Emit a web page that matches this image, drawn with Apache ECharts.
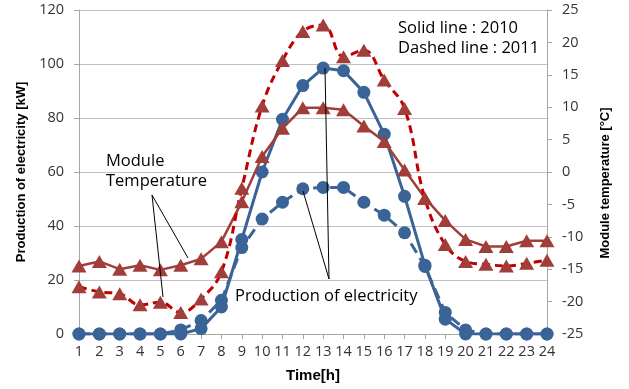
<!DOCTYPE html>
<html>
<head>
<meta charset="utf-8">
<script src="https://cdn.jsdelivr.net/npm/echarts@6/dist/echarts.min.js"></script>
<style>
html,body{margin:0;padding:0;background:#fff;}
#c{width:629px;height:389px;}
</style>
</head>
<body>
<div id="c"></div>
<script>
var hours = ['1','2','3','4','5','6','7','8','9','10','11','12','13','14','15','16','17','18','19','20','21','22','23','24'];
var power2010 = [0,0,0,0,0,0,2,10,35,60,79.5,92,98.5,97.5,89.5,74,51,25.5,5.5,0,0,0,0,0];
var power2011 = [0,0,0,0,0,1.5,5,12.5,32,42.6,48.8,53.8,54.3,54.3,48.8,44,37.5,25,8,1.5,0,0,0,0];
var temp2010 = [-14.5,-13.8,-15,-14.4,-15.1,-14.4,-13.4,-10.75,-4.6,2.4,6.75,9.9,9.9,9.6,7.1,4.7,0.3,-4.0,-7.5,-10.4,-11.5,-11.5,-10.6,-10.6];
var temp2011 = [-17.7,-18.5,-18.8,-20.5,-20.1,-21.7,-19.6,-15.4,-2.5,10.2,17.2,21.7,22.7,17.8,18.8,14.2,9.8,-4.1,-11.2,-13.8,-14.25,-14.5,-14.1,-13.6];
var leftTicks = {min:0, max:120, interval:20};
var rightTicks = {min:-25, max:25, interval:5};

var blue = '#3A6497';
var redMarker = '#A23E3A';
var redDash = '#C00000';
var font = 'Open Sans';
var noteFont = '16.5px "Open Sans"';

var chart = echarts.init(document.getElementById('c'));
chart.setOption({
  animation: false,
  grid: {left: 79, right: 82, top: 10, bottom: 55},
  xAxis: {
    type: 'category', data: hours, boundaryGap: false,
    name: 'Time[h]', nameLocation: 'middle', nameGap: 34,
    nameTextStyle: {fontFamily: 'Liberation Sans', fontWeight: 'bold', fontSize: 15, color: '#000'},
    axisLine: {lineStyle: {color: '#A6A6A6'}},
    axisTick: {show: true, alignWithLabel: true, length: 5, lineStyle: {color: '#A6A6A6'}},
    axisLabel: {fontFamily: font, fontSize: 14.5, color: '#333', margin: 10, interval: 0},
    splitLine: {show: false}
  },
  yAxis: [{
    type: 'value', min: leftTicks.min, max: leftTicks.max, interval: leftTicks.interval,
    name: 'Production of electricity [kW]', nameLocation: 'middle', nameGap: 50, nameRotate: 90,
    nameTextStyle: {fontFamily: 'Liberation Sans', fontWeight: 'bold', fontSize: 13, color: '#000'},
    axisLine: {show: true, lineStyle: {color: '#A6A6A6'}},
    axisTick: {show: true, length: 5, lineStyle: {color: '#A6A6A6'}},
    axisLabel: {fontFamily: font, fontSize: 14.5, color: '#333', margin: 15},
    splitLine: {show: true, lineStyle: {color: '#BFBFBF', width: 1}}
  }, {
    type: 'value', position: 'right', min: rightTicks.min, max: rightTicks.max, interval: rightTicks.interval,
    name: 'Module temperature [°C]', nameLocation: 'middle', nameGap: 52, nameRotate: 90,
    nameTextStyle: {fontFamily: 'Liberation Sans', fontWeight: 'bold', fontSize: 13, color: '#000', padding: [0, 22, 0, 0]},
    axisLine: {show: true, lineStyle: {color: '#A6A6A6'}},
    axisTick: {show: true, length: 5, lineStyle: {color: '#A6A6A6'}},
    axisLabel: {fontFamily: font, fontSize: 14.5, color: '#333', margin: 15},
    splitLine: {show: false}
  }],
  series: [{
    name: 'Production 2010', type: 'line', data: power2010, yAxisIndex: 0,
    symbol: 'circle', symbolSize: 13,
    lineStyle: {color: blue, width: 3}, itemStyle: {color: blue}, z: 3
  }, {
    name: 'Production 2011', type: 'line', data: power2011, yAxisIndex: 0,
    symbol: 'circle', symbolSize: 13,
    lineStyle: {color: blue, width: 3, type: [11, 6]}, itemStyle: {color: blue}, z: 3
  }, {
    name: 'Temperature 2010', type: 'line', data: temp2010, yAxisIndex: 1,
    symbol: 'triangle', symbolSize: [15, 13],
    lineStyle: {color: redMarker, width: 2.5}, itemStyle: {color: redMarker}, z: 4
  }, {
    name: 'Temperature 2011', type: 'line', data: temp2011, yAxisIndex: 1, smooth: 0.4,
    symbol: 'triangle', symbolSize: [15, 13],
    lineStyle: {color: redDash, width: 3, type: [8, 5]}, itemStyle: {color: redMarker}, z: 4
  }],
  graphic: [
    {type: 'line', shape: {x1: 152, y1: 195, x2: 188, y2: 258}, style: {stroke: '#000', lineWidth: 1}, z: 10},
    {type: 'line', shape: {x1: 152, y1: 195, x2: 163, y2: 297}, style: {stroke: '#000', lineWidth: 1}, z: 10},
    {type: 'line', shape: {x1: 329, y1: 279, x2: 325, y2: 68}, style: {stroke: '#000', lineWidth: 1}, z: 10},
    {type: 'line', shape: {x1: 329, y1: 279, x2: 303, y2: 191}, style: {stroke: '#000', lineWidth: 1}, z: 10},
    {type: 'text', left: 106, top: 153, style: {text: 'Module', font: noteFont, fill: '#000'}, z: 10},
    {type: 'text', left: 106, top: 173, style: {text: 'Temperature', font: noteFont, fill: '#000'}, z: 10},
    {type: 'text', left: 235, top: 288, style: {text: 'Production of electricity', font: noteFont, fill: '#000'}, z: 10},
    {type: 'text', left: 398, top: 20, style: {text: 'Solid line : 2010', font: noteFont, fill: '#000'}, z: 10},
    {type: 'text', left: 398, top: 40, style: {text: 'Dashed line : 2011', font: noteFont, fill: '#000'}, z: 10}
  ]
});
</script>
</body>
</html>
